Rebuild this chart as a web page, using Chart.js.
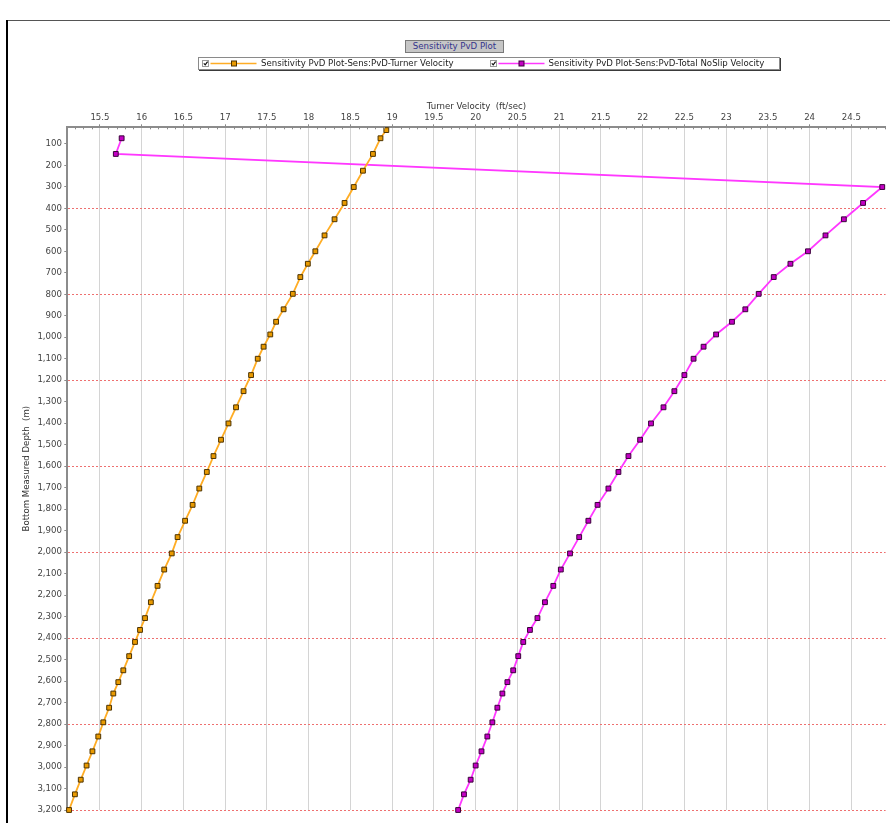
<!DOCTYPE html>
<html>
<head>
<meta charset="utf-8">
<title>Sensitivity PvD Plot</title>
<script src="https://cdn.jsdelivr.net/npm/chart.js@4/dist/chart.umd.min.js"></script>
<style>
  html, body { margin: 0; padding: 0; background: #fff; }
  #wrap { position: relative; width: 890px; height: 823px; overflow: hidden; font-family: "DejaVu Sans", sans-serif; }
  #plot { position: absolute; left: 0; top: 0; }
  .frame-top { position: absolute; left: 6px; top: 20px; width: 884px; height: 1px; background: #555; }
  .frame-left { position: absolute; left: 6px; top: 20px; width: 2px; height: 803px; background: #000; }
  #title { position: absolute; left: 405px; top: 40px; width: 97px; height: 11px; background: #c6c6c6;
           border: 1px solid #7a7a7a; color: #34348c; font-size: 8.6px; line-height: 11px; text-align: center; white-space: nowrap; }
  #legend { position: absolute; left: 198px; top: 57px; width: 580px; height: 11px; border: 1px solid #8a8a8a;
            box-shadow: 1px 1px 0 #3a3a3a; background: #fff; font-size: 8.6px; line-height: 11px; color: #222; white-space: nowrap; }
  #legend svg { position: absolute; top: 0; }
  #legend .txt { position: absolute; top: 0; }
</style>
</head>
<body>
<div id="wrap">
  <canvas id="plot" width="890" height="823"></canvas>
  <div class="frame-top"></div>
  <div class="frame-left"></div>
  <div id="title">Sensitivity PvD Plot</div>
  <div id="legend"></div>
</div>
<script>
// Bottom measured depth of each node (m)
const depthM = [36, 74, 147, 225, 301, 375, 451, 526, 600, 658,
  720, 798, 870, 928, 987, 1044, 1100, 1176, 1251, 1326,
  1401, 1477, 1553, 1627, 1704, 1780, 1854, 1930, 2006, 2081,
  2157, 2233, 2307, 2362, 2418, 2484, 2550, 2605, 2658, 2724,
  2792, 2858, 2927, 2993, 3059, 3127, 3200];

// Turner critical velocity (ft/sec)
const turnerVelocity = [18.93, 18.86, 18.77, 18.65, 18.54, 18.43, 18.31, 18.19, 18.08, 17.99,
  17.90, 17.81, 17.70, 17.61, 17.54, 17.46, 17.39, 17.31, 17.22, 17.13,
  17.04, 16.95, 16.86, 16.78, 16.69, 16.61, 16.52, 16.43, 16.36, 16.27,
  16.19, 16.11, 16.04, 15.98, 15.92, 15.85, 15.78, 15.72, 15.66, 15.61,
  15.54, 15.48, 15.41, 15.34, 15.27, 15.20, 15.13];

// Total no-slip velocity (ft/sec); null where the node has no value
const totalNoSlipVelocity = [null, 15.76, 15.69, null, 24.87, 24.64, 24.41, 24.19, 23.98, 23.77,
  23.57, 23.39, 23.23, 23.07, 22.88, 22.73, 22.61, 22.50, 22.38, 22.25,
  22.10, 21.97, 21.83, 21.71, 21.59, 21.46, 21.35, 21.24, 21.13, 21.02,
  20.93, 20.83, 20.74, 20.65, 20.57, 20.51, 20.45, 20.38, 20.32, 20.26,
  20.20, 20.14, 20.07, 20.00, 19.94, 19.86, 19.79];

const seriesNames = [
  'Sensitivity PvD Plot-Sens:PvD-Turner Velocity',
  'Sensitivity PvD Plot-Sens:PvD-Total NoSlip Velocity'
];

const velocityRange = [15.109, 24.91];
const depthRange = [23, 3200];

const FONT = { family: '"DejaVu Sans", sans-serif', size: 8.6 };

function toPoints(values) {
  return depthM.map((d, i) => ({ x: values[i], y: d })).filter(p => p.x !== null);
}

const styles = [
  { line: '#ffad25', fill: '#e99a00', edge: '#4d3300' },
  { line: '#ff38ff', fill: '#c400c4', edge: '#3a003a' }
];

// Small unlabeled ticks along the velocity axis
const minorTicks = {
  id: 'minorTicks',
  afterDraw(chart) {
    const { ctx, chartArea, scales: { x } } = chart;
    ctx.save();
    ctx.strokeStyle = '#8a8a8a';
    ctx.lineWidth = 1;
    ctx.beginPath();
    for (let k = Math.ceil(x.min * 10); k <= Math.floor(x.max * 10); k++) {
      if (k % 5 === 0) continue;
      const px = Math.round(x.getPixelForValue(k / 10)) + 0.5;
      ctx.moveTo(px, chartArea.top - 1);
      ctx.lineTo(px, chartArea.top + 2);
    }
    ctx.stroke();
    ctx.restore();
  }
};

new Chart(document.getElementById('plot'), {
  type: 'scatter',
  data: {
    datasets: [
      { label: seriesNames[0], data: toPoints(turnerVelocity) },
      { label: seriesNames[1], data: toPoints(totalNoSlipVelocity) }
    ].map((ds, i) => Object.assign(ds, {
      showLine: true,
      borderColor: styles[i].line,
      borderWidth: 1.8,
      pointStyle: 'rect',
      pointRadius: 3.4,
      pointHoverRadius: 3.4,
      pointBackgroundColor: styles[i].fill,
      pointBorderColor: styles[i].edge,
      pointBorderWidth: 1,
      clip: false
    }))
  },
  options: {
    responsive: false,
    animation: false,
    devicePixelRatio: 1,
    layout: { padding: { left: 0, top: 0, right: 3, bottom: 13 } },
    plugins: { legend: { display: false }, tooltip: { enabled: false } },
    scales: {
      x: {
        type: 'linear',
        position: 'top',
        min: velocityRange[0],
        max: velocityRange[1],
        afterFit(scale) { scale.height = 127.3; },
        title: { display: true, text: 'Turner Velocity  (ft/sec)', color: '#333', font: FONT, padding: { top: 101.3, bottom: 0 } },
        ticks: {
          stepSize: 0.5, includeBounds: false, autoSkip: false, maxRotation: 0,
          color: '#444', font: FONT, padding: 1.5,
          callback: v => String(Number(v.toFixed(1)))
        },
        grid: { color: '#d4d4d4', lineWidth: 1, drawTicks: true, tickLength: 3, tickColor: '#8a8a8a' },
        border: { display: true, color: '#8c8c8c', width: 2 }
      },
      y: {
        type: 'linear',
        position: 'left',
        reverse: true,
        min: depthRange[0],
        max: depthRange[1],
        afterFit(scale) { scale.width = 67.3; },
        title: { display: true, text: 'Bottom Measured Depth  (m)', color: '#333', font: FONT, padding: { top: 21.8, bottom: 0 } },
        ticks: {
          stepSize: 100, includeBounds: false, autoSkip: false,
          color: '#444', font: FONT, padding: 2.3,
          callback: v => v.toLocaleString('en-US')
        },
        grid: {
          color: c => (c.tick && c.tick.value % 400 === 0) ? '#ee7070' : 'rgba(0,0,0,0)',
          lineWidth: 1, drawTicks: true, tickLength: 3, tickColor: '#8a8a8a'
        },
        border: { display: true, color: '#8c8c8c', width: 2, dash: [2, 2] }
      }
    }
  },
  plugins: [minorTicks]
});

// Legend strip: checkbox, line sample with marker, series name
const legendEl = document.getElementById('legend');
const legendLeft = 198;
const legendItems = [
  { x: 201.5, lineFrom: 210, lineTo: 256, marker: 233.5, text: 261 },
  { x: 489.5, lineFrom: 498, lineTo: 544, marker: 521, text: 548.5 }
];
legendItems.forEach((it, i) => {
  const w = it.lineTo - it.x + 2;
  const svgNS = 'http://www.w3.org/2000/svg';
  const svg = document.createElementNS(svgNS, 'svg');
  svg.setAttribute('width', w);
  svg.setAttribute('height', 11);
  svg.style.left = (it.x - legendLeft - 1) + 'px';
  const ox = it.x;
  svg.innerHTML =
    `<rect x="0.5" y="2.5" width="6" height="6" fill="#fff" stroke="#9a9a9a"/>` +
    `<path d="M1.8 5.4 L3.2 6.9 L5.6 3.6" fill="none" stroke="#111" stroke-width="1.2"/>` +
    `<line x1="${it.lineFrom - ox}" y1="5.5" x2="${it.lineTo - ox}" y2="5.5" stroke="${styles[i].line}" stroke-width="1.4"/>` +
    `<rect x="${it.marker - ox - 2.5}" y="3" width="5" height="5" fill="${styles[i].fill}" stroke="${styles[i].edge}" stroke-width="1"/>`;
  legendEl.appendChild(svg);
  const t = document.createElement('span');
  t.className = 'txt';
  t.style.left = (it.text - legendLeft - 1) + 'px';
  t.textContent = seriesNames[i];
  legendEl.appendChild(t);
});
</script>
</body>
</html>
